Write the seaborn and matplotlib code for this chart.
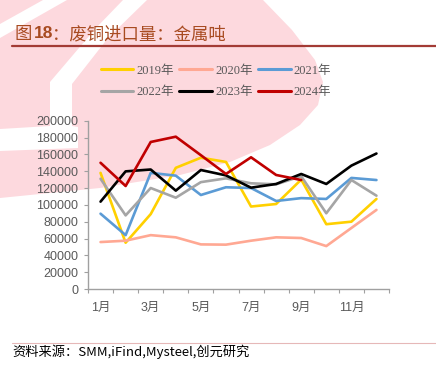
import numpy as np
import pandas as pd
import seaborn as sns
import matplotlib.pyplot as plt
from matplotlib.patches import Polygon
from matplotlib.lines import Line2D

# Data (metal tonnes)
months = ["1月", "2月", "3月", "4月", "5月", "6月", "7月", "8月", "9月", "10月", "11月", "12月"]
y2019 = [138000, 55000, 89000, 144000, 156000, 151000, 98000, 101000, 130000, 77000, 80000, 107000]
y2020 = [55800, 57400, 64000, 61400, 53000, 52700, 57400, 61400, 60600, 51000, 72500, 94000]
y2021 = [89500, 64000, 138000, 134700, 111700, 120900, 120000, 104600, 108000, 107000, 132000, 129500]
y2022 = [131000, 87500, 120000, 108500, 127000, 131500, 125600, 124400, 134000, 90000, 129500, 110900]
y2023 = [103800, 139800, 142000, 116900, 141400, 135000, 120400, 124800, 136700, 124800, 146600, 161000]
y2024 = [150000, 122400, 174700, 181000, 159000, 136700, 156500, 135500, 129500, np.nan, np.nan, np.nan]
years = ["2019年", "2020年", "2021年", "2022年", "2023年", "2024年"]
colors = ["#FFD000", "#FFA893", "#5B9BD5", "#A5A5A5", "#000000", "#C00000"]

series = [y2019, y2020, y2021, y2022, y2023, y2024]
df = pd.DataFrame({
    "month": np.tile(np.arange(12), len(years)),
    "year": np.repeat(years, 12),
    "value": np.concatenate(series),
})

sns.set_style("white")
plt.rcParams["font.family"] = ["Liberation Sans", "Noto Sans CJK SC"]

W, H = 436, 386
fig = plt.figure(figsize=(W / 100, H / 100), dpi=100)
fig.patch.set_facecolor("white")


def fpts(pts):
    return [(x / W, 1 - y / H) for x, y in pts]


# pink watermark in the background
pink = "#FDD9DE"
blob = [(0, 0), (263, 0), (292, 30), (315, 60), (323, 82), (318, 105), (300, 125),
        (270, 145), (230, 162), (180, 175), (100, 188), (0, 198)]
fig.patches.append(Polygon(fpts(blob), closed=True, transform=fig.transFigure,
                           facecolor=pink, edgecolor="none", zorder=-2))
stripe1 = [(43, 0), (67, 0), (0, 38), (0, 24)]
stripe2 = [(123, 0), (147, 0), (108, 38), (72, 84), (72, 126), (78, 127), (78, 148),
           (0, 151), (0, 129), (50, 126), (50, 82), (96, 28)]
for s in (stripe1, stripe2):
    fig.patches.append(Polygon(fpts(s), closed=True, transform=fig.transFigure,
                               facecolor="white", edgecolor="none", zorder=-1))

ax = fig.add_axes([88 / W, 1 - 289 / H, 301 / W, 168.3 / H])
ax.patch.set_alpha(0)

sns.lineplot(ax=ax, data=df, x="month", y="value", hue="year",
             palette=colors, linewidth=1.9, legend=False)

ax.set_xlim(-0.5, 11.5)
ax.set_ylim(0, 200000)
ax.set_yticks(np.arange(0, 200001, 20000))
ax.set_yticklabels([str(v) for v in range(0, 200001, 20000)])
ax.set_xticks(np.arange(0, 12, 2))
ax.set_xticklabels(months[::2])
ax.set_xticks(np.arange(-0.5, 12, 1), minor=True)
ax.set_xlabel("")
ax.set_ylabel("")

ax.tick_params(axis="x", which="major", length=0, pad=9, labelsize=9, labelcolor="#595959")
ax.tick_params(axis="x", which="minor", length=3, width=0.8, color="#A0A0A0", direction="out", bottom=True)
ax.tick_params(axis="y", length=3, width=0.8, color="#A0A0A0", direction="out", left=True,
               pad=4, labelsize=9, labelcolor="#595959")

for side in ["top", "right"]:
    ax.spines[side].set_visible(False)
for side in ["left", "bottom"]:
    ax.spines[side].set_color("#A0A0A0")
    ax.spines[side].set_linewidth(1.0)

# legend filled row by row (matplotlib fills by column)
order = [0, 3, 1, 4, 2, 5]
handles = [Line2D([0], [0], color=colors[i], lw=2.2) for i in order]
labels = [years[i] for i in order]
leg = fig.legend(handles, labels, loc="center", bbox_to_anchor=(216 / W, 1 - 81.5 / H),
                 ncol=3, frameon=False, handlelength=2.6, handletextpad=0.25,
                 columnspacing=0.45, labelspacing=0.75,
                 prop={"family": ["Liberation Serif", "Noto Sans CJK SC"], "size": 9})
for t in leg.get_texts():
    t.set_color("#595959")

# title
tc = "#A84B21"
ty = 1 - 34 / H
fig.text(14 / W, ty, "图", color=tc, fontsize=12.5, va="center",
         family=["Noto Sans CJK SC"])
fig.text(34 / W, ty, "18", color=tc, fontsize=12.5, va="center", weight="bold",
         family=["Liberation Sans"])
fig.text(52 / W, ty, "：废铜进口量：金属吨", color=tc, fontsize=12.5, va="center",
         family=["Noto Sans CJK SC"])
fig.add_artist(Line2D([12 / W, 1], [1 - 46 / H, 1 - 46 / H], transform=fig.transFigure,
                      color="#A33B35", lw=1.6))

# source
fig.add_artist(Line2D([12 / W, 1], [1 - 342.7 / H, 1 - 342.7 / H], transform=fig.transFigure,
                      color="#E6B8B8", lw=0.8))
fig.text(12 / W, 1 - 352 / H, "资料来源：SMM,iFind,Mysteel,创元研究", color="black",
         fontsize=9.5, va="center", family=["Noto Sans CJK SC", "DejaVu Sans"])

fig.savefig("out.png", dpi=100)
